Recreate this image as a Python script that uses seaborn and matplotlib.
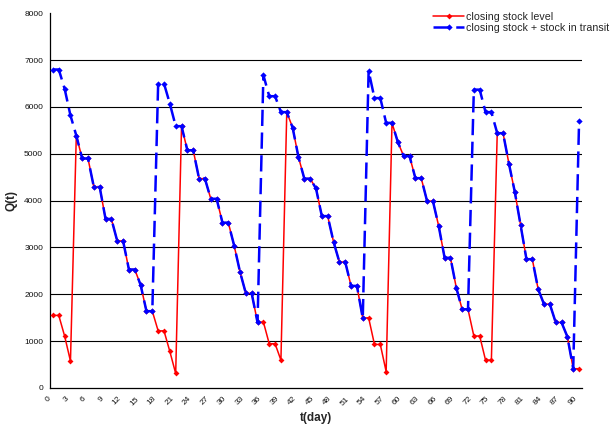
import matplotlib
matplotlib.use("Agg")
import matplotlib.pyplot as plt
import matplotlib.transforms as mtrans
import pandas as pd
import seaborn as sns

# ---- data ----
days = list(range(91))
closing_stock = [1550, 1550, 1110, 575, 5390, 4900, 4900, 4290, 4290, 3610,   # 0-9
                 3610, 3140, 3140, 2530, 2530, 2200, 1640, 1640, 1220, 1220,   # 10-19
                 780, 310, 5590, 5075, 5075, 4470, 4470, 4040, 4040, 3530,     # 20-29
                 3530, 3040, 2480, 2020, 2020, 1400, 1410, 945, 945, 595,      # 30-39
                 5890, 5560, 4930, 4470, 4470, 4260, 3670, 3670, 3120, 2690,   # 40-49
                 2690, 2180, 2180, 1490, 1500, 930, 930, 350, 5660, 5250,      # 50-59
                 4950, 4950, 4480, 4480, 3990, 3990, 3450, 2780, 2780, 2140,   # 60-69
                 1680, 1680, 1110, 1110, 595, 595, 5440, 5440, 4790, 4190,     # 70-79
                 3475, 2750, 2750, 2110, 1790, 1790, 1400, 1400, 1095, 412,    # 80-89
                 412]                                                          # 90
stock_plus_transit = [6800, 6800, 6390, 5820, 5390, 4900, 4900, 4290, 4290, 3610,   # 0-9
                      3610, 3140, 3140, 2530, 2530, 2200, 1640, 1640, 6500, 6500,   # 10-19
                      6070, 5590, 5590, 5075, 5075, 4470, 4470, 4040, 4040, 3530,   # 20-29
                      3530, 3040, 2480, 2020, 2020, 1400, 6680, 6230, 6230, 5890,   # 30-39
                      5890, 5560, 4930, 4470, 4470, 4260, 3670, 3670, 3120, 2690,   # 40-49
                      2690, 2180, 2180, 1490, 6770, 6190, 6190, 5660, 5660, 5250,   # 50-59
                      4950, 4950, 4480, 4480, 3990, 3990, 3450, 2780, 2780, 2140,   # 60-69
                      1680, 1680, 6370, 6370, 5890, 5890, 5440, 5440, 4790, 4190,   # 70-79
                      3475, 2750, 2750, 2110, 1790, 1790, 1400, 1400, 1095, 412,    # 80-89
                      5700]                                                         # 90
series_names = ["closing stock level", "closing stock + stock in transit"]
x_tick_values = list(range(0, 91, 3))
x_tick_labels = [str(v) for v in x_tick_values]
y_tick_values = list(range(0, 8001, 1000))
y_tick_labels = [str(v) for v in y_tick_values]

df_red = pd.DataFrame({"t": days, "Q": closing_stock})
df_blue = pd.DataFrame({"t": days, "Q": stock_plus_transit})

sns.set_style("white")
plt.rcParams["font.family"] = ["Liberation Sans", "DejaVu Sans"]

fig = plt.figure(figsize=(6.13, 4.26), dpi=100)
ax = fig.add_axes([50 / 613, (426 - 388) / 426, 532 / 613, (388 - 13.3) / 426])

# horizontal grid lines
for v in y_tick_values[1:-1]:
    ax.axhline(v, color="#000000", lw=0.8, zorder=1)

sns.lineplot(data=df_red, x="t", y="Q", ax=ax, color="#FF0000", lw=1.1,
             marker="D", markersize=3.0, markeredgewidth=0, label=series_names[0],
             zorder=3, sort=False)
sns.lineplot(data=df_blue, x="t", y="Q", ax=ax, color="#0000FF", lw=1.8,
             linestyle=(0, (6.5, 2.6)), marker="D", markersize=3.2,
             markeredgewidth=0, label=series_names[1], zorder=4, sort=False)

ax.set_xlim(-0.5, 90.5)
ax.set_ylim(0, 8000)
ax.set_yticks(y_tick_values)
ax.set_yticklabels(y_tick_labels, fontsize=6, color="#111111")
ax.set_xticks(x_tick_values)
ax.set_xticklabels(x_tick_labels, fontsize=6, rotation=45, ha="right",
                   va="center", rotation_mode="anchor", color="#111111")
ax.set_xticks([d - 0.5 for d in range(92)], minor=True)
ax.tick_params(axis="x", which="major", length=0, pad=7)
ax.tick_params(axis="x", which="minor", length=3, width=0.8, direction="out",
               color="black")
ax.tick_params(axis="y", which="major", length=3, width=0.8, direction="out",
               color="black", pad=2)
offset = mtrans.ScaledTranslation(-3 / 100, 0, fig.dpi_scale_trans)
for lab in ax.get_xticklabels():
    lab.set_transform(lab.get_transform() + offset)

for s in ["top", "right"]:
    ax.spines[s].set_visible(False)
for s in ["left", "bottom"]:
    ax.spines[s].set_color("black")
    ax.spines[s].set_linewidth(0.9)

ax.set_xlabel("t(day)", fontsize=8.5, fontweight="bold")
ax.xaxis.set_label_coords(0.5, (388 - 412) / 374.7)
ax.set_ylabel("Q(t)", fontsize=8.5, fontweight="bold")
ax.yaxis.set_label_coords((18 - 50) / 532, 0.5)

ax.get_legend().remove()
handles, labels = ax.get_legend_handles_labels()
fig.legend(handles, labels, loc="upper left", bbox_to_anchor=(433 / 613, 1 - 11.5 / 426),
           frameon=False, fontsize=7.7, handlelength=2.9, handletextpad=0.2,
           labelspacing=0.1, borderpad=0, borderaxespad=0)

fig.savefig("out.png", dpi=100)
